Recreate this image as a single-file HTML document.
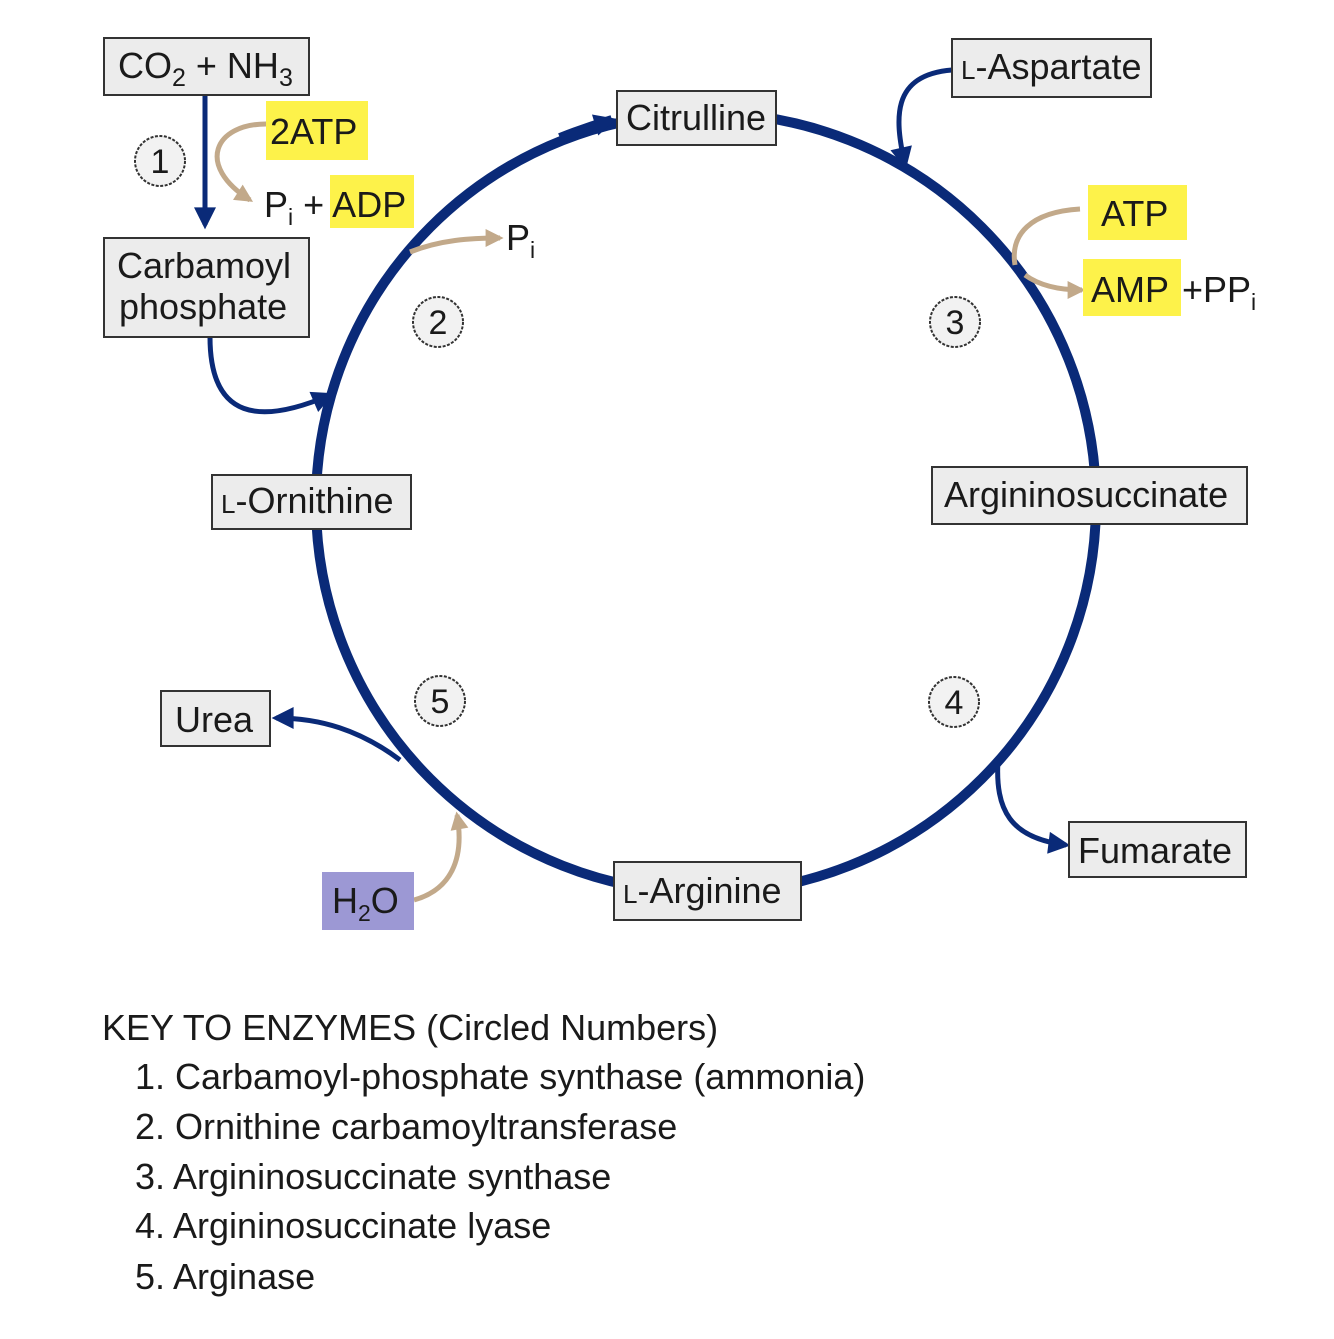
<!DOCTYPE html>
<html><head><meta charset="utf-8"><style>
html,body{margin:0;padding:0;background:#fff}
svg text{font-family:"Liberation Sans",Arial,sans-serif;fill:#1a1a1a}
</style></head><body>
<svg width="1334" height="1334" viewBox="0 0 1334 1334" xmlns="http://www.w3.org/2000/svg">
<defs>
<marker id="at" viewBox="0 0 10 10" refX="8" refY="5" markerWidth="20" markerHeight="18" orient="auto" markerUnits="userSpaceOnUse"><path d="M0,0 L10,5 L0,10 z" fill="#c2a98a"/></marker>
<marker id="ab2" viewBox="0 0 10 10" refX="8" refY="5" markerWidth="26" markerHeight="22" orient="auto" markerUnits="userSpaceOnUse"><path d="M0,0 L10,5 L0,10 z" fill="#0a2a78"/></marker>
</defs>
<rect x="0" y="0" width="1334" height="1334" fill="#fff"/>
<circle cx="706" cy="503" r="390" fill="none" stroke="#0a2a78" stroke-width="10"/>
<path d="M560,138 Q585,128 612,120" fill="none" stroke="#0a2a78" stroke-width="10" marker-end="url(#ab2)"/>
<line x1="205" y1="95" x2="205" y2="225" stroke="#0a2a78" stroke-width="5" marker-end="url(#ab2)"/>
<path d="M266,124 C215,124 195,165 250,200" fill="none" stroke="#c2a98a" stroke-width="5" marker-end="url(#at)"/>
<path d="M210,337 C210,420 260,425 330,395" fill="none" stroke="#0a2a78" stroke-width="5" marker-end="url(#ab2)"/>
<path d="M410,252 C440,240 470,238 500,238" fill="none" stroke="#c2a98a" stroke-width="5" marker-end="url(#at)"/>
<path d="M952,70 C890,75 895,120 905,165" fill="none" stroke="#0a2a78" stroke-width="5" marker-end="url(#ab2)"/>
<path d="M1080,209 C1030,212 1010,235 1015,265" fill="none" stroke="#c2a98a" stroke-width="5"/>
<path d="M1025,275 C1040,286 1060,290 1082,290" fill="none" stroke="#c2a98a" stroke-width="5" marker-end="url(#at)"/>
<path d="M998,760 C995,810 1010,838 1066,845" fill="none" stroke="#0a2a78" stroke-width="5" marker-end="url(#ab2)"/>
<path d="M400,760 C360,730 320,718 276,718" fill="none" stroke="#0a2a78" stroke-width="5" marker-end="url(#ab2)"/>
<path d="M414,900 C450,890 465,860 457,815" fill="none" stroke="#c2a98a" stroke-width="5" marker-end="url(#at)"/>

<g fill="#ececec" stroke="#333" stroke-width="2">
<rect x="104" y="38" width="205" height="57"/>
<rect x="104" y="238" width="205" height="99"/>
<rect x="617" y="91" width="159" height="54"/>
<rect x="952" y="39" width="199" height="58"/>
<rect x="932" y="467" width="315" height="57"/>
<rect x="212" y="475" width="199" height="54"/>
<rect x="161" y="691" width="109" height="55"/>
<rect x="614" y="862" width="187" height="58"/>
<rect x="1069" y="822" width="177" height="55"/>
</g>
<rect x="322" y="872" width="92" height="58" fill="#9c98d4"/>
<g fill="#fdf24a">
<rect x="266" y="101" width="102" height="59"/>
<rect x="330" y="175" width="84" height="53"/>
<rect x="1088" y="185" width="99" height="55"/>
<rect x="1083" y="259" width="98" height="57"/>
</g>
<g fill="#f2f2f2" stroke="#333" stroke-width="2" stroke-dasharray="3,1.5">
<circle cx="160" cy="161" r="25"/>
<circle cx="438" cy="322" r="25"/>
<circle cx="955" cy="322" r="25"/>
<circle cx="954" cy="702" r="25"/>
<circle cx="440" cy="701" r="25"/>
</g>
<g font-size="34" text-anchor="middle">
<text x="160" y="173">1</text>
<text x="438" y="334">2</text>
<text x="955" y="334">3</text>
<text x="954" y="714">4</text>
<text x="440" y="713">5</text>
</g>
<g font-size="36">
<text x="118" y="78">CO<tspan font-size="25" dy="8">2</tspan><tspan dy="-8"> + NH</tspan><tspan font-size="25" dy="8">3</tspan></text>
<text x="270" y="144">2ATP</text>
<text x="264" y="217">P<tspan font-size="23" dy="8">i</tspan><tspan dy="-8"> + ADP</tspan></text>
<text x="117" y="278">Carbamoyl</text>
<text x="119" y="319">phosphate</text>
<text x="626" y="130">Citrulline</text>
<text x="506" y="250">P<tspan font-size="23" dy="8">i</tspan></text>
<text x="961" y="79"><tspan font-size="26">L</tspan>-Aspartate</text>
<text x="1101" y="226">ATP</text>
<text x="1091" y="302">AMP</text>
<text x="1182" y="302">+PP<tspan font-size="23" dy="8">i</tspan></text>
<text x="944" y="507">Argininosuccinate</text>
<text x="221" y="513"><tspan font-size="26">L</tspan>-Ornithine</text>
<text x="175" y="732">Urea</text>
<text x="623" y="903"><tspan font-size="26">L</tspan>-Arginine</text>
<text x="1078" y="863">Fumarate</text>
<text x="332" y="913">H<tspan font-size="23" dy="8">2</tspan><tspan dy="-8">O</tspan></text>
</g>
<g font-size="36">
<text x="102" y="1040">KEY TO ENZYMES (Circled Numbers)</text>
<text x="135" y="1089">1. Carbamoyl-phosphate synthase (ammonia)</text>
<text x="135" y="1139">2. Ornithine carbamoyltransferase</text>
<text x="135" y="1189">3. Argininosuccinate synthase</text>
<text x="135" y="1238">4. Argininosuccinate lyase</text>
<text x="135" y="1289">5. Arginase</text>
</g>
</svg>
</body></html>
